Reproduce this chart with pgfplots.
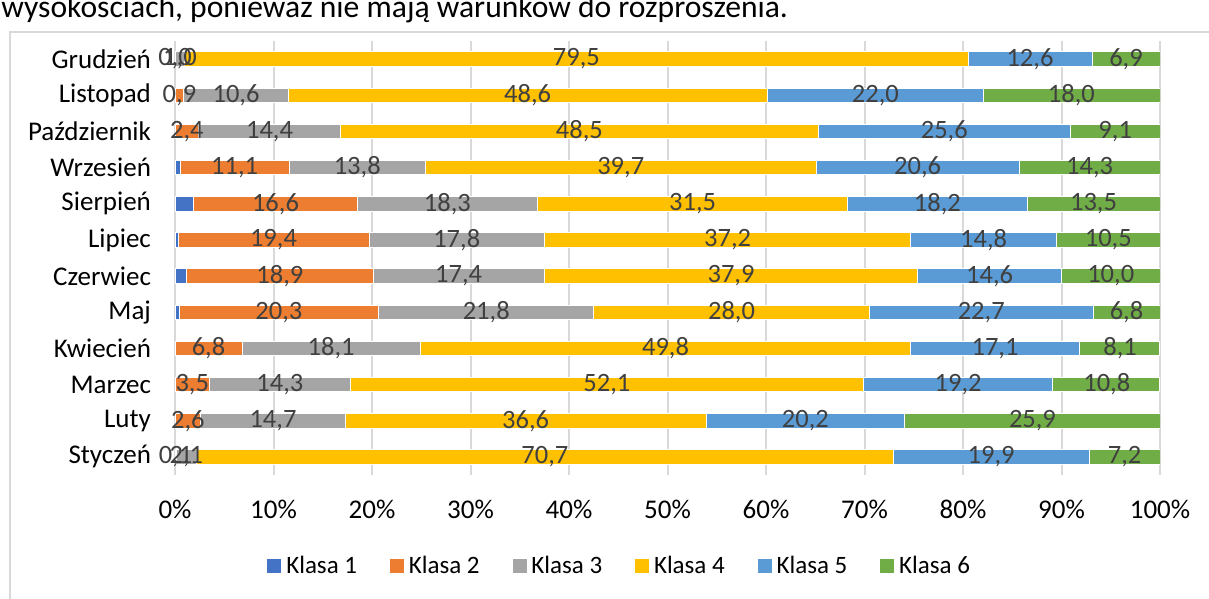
\documentclass[border=0pt]{standalone}
\usepackage{fontspec}
\setmainfont{Carlito}
\usepackage{pgfplots}
\usepackage{pgfplotstable}
\pgfplotsset{compat=1.18}

\definecolor{k1}{HTML}{4472C4}
\definecolor{k2}{HTML}{ED7D31}
\definecolor{k3}{HTML}{A5A5A5}
\definecolor{k4}{HTML}{FFC000}
\definecolor{k5}{HTML}{5B9BD5}
\definecolor{k6}{HTML}{70AD47}
\definecolor{gridgray}{HTML}{D9D9D9}
\definecolor{labelgray}{HTML}{404040}

% shares in % per month, y = 0 (Styczen) ... 11 (Grudzien)
\pgfplotstableread{
y  k1  k2   k3   k4   k5   k6
0  0.0 0.1  2.1  70.7 19.9 7.2
1  0.0 2.6  14.7 36.6 20.2 25.9
2  0.0 3.5  14.3 52.1 19.2 10.8
3  0.0 6.8  18.1 49.8 17.1 8.1
4  0.4 20.3 21.8 28.0 22.7 6.8
5  1.2 18.9 17.4 37.9 14.6 10.0
6  0.3 19.4 17.8 37.2 14.8 10.5
7  1.9 16.6 18.3 31.5 18.2 13.5
8  0.5 11.1 13.8 39.7 20.6 14.3
9  0.0 2.4  14.4 48.5 25.6 9.1
10 0.0 0.9  10.6 48.6 22.0 18.0
11 0.0 0.0  1.0  79.5 12.6 6.9
}\monthdata

\newcommand\tickfont{\fontsize{13.5}{16}\selectfont}
\newcommand\valfont{\fontsize{13.25}{16}\selectfont}
\newcommand\legfont{\fontsize{12.5}{15}\selectfont}

\pgfplotsset{
  frame/.style={
    at={(87.5pt,-237.5pt)}, anchor=south west,
    scale only axis, width=492.5pt, height=217pt,
    xmin=0, xmax=100, ymin=-0.5, ymax=11.5,
  },
}

\begin{document}
\begin{tikzpicture}
\useasboundingbox (0,0) rectangle (604.5pt,-299.5pt);
\clip (0,0) rectangle (604.5pt,-299.5pt);

\node[anchor=base west, inner sep=0pt, font=\fontsize{15.8}{19}\selectfont]
  at (0.5pt,-8.75pt) {wysokościach, ponieważ nie mają warunków do rozproszenia.};
\draw[gridgray, line width=1pt] (5pt,-16pt) rectangle (606pt,-310pt);

\begin{axis}[
  frame,
  xbar stacked, bar width=0.4,
  xtick={0,10,...,100},
  xticklabels={0\%,10\%,20\%,30\%,40\%,50\%,60\%,70\%,80\%,90\%,100\%},
  ytick={0,...,11},
  yticklabels={Styczeń,Luty,Marzec,Kwiecień,Maj,Czerwiec,Lipiec,Sierpień,Wrzesień,Październik,Listopad,Grudzień},
  xmajorgrids, major grid style={draw=gridgray, line width=1pt},
  axis line style={draw=none}, major tick length=0pt,
  tick label style={font=\tickfont, text=black},
  yticklabel style={xshift=-8.5pt},
  xticklabel style={yshift=-9pt},
  legend columns=6,
  legend style={draw=none, fill=none, at={(0.452,-0.2097)}, anchor=center,
    font=\legfont, text=black,
    /tikz/every even column/.append style={column sep=14pt}},
  legend image code/.code={\fill[#1] (0pt,-3.75pt) rectangle (7.5pt,3.75pt);},
  every axis plot/.append style={draw=white, line width=0.4pt},
]
\addplot[fill=k1] table[x=k1, y=y] {\monthdata};
\addplot[fill=k2] table[x=k2, y=y] {\monthdata};
\addplot[fill=k3] table[x=k3, y=y] {\monthdata};
\addplot[fill=k4] table[x=k4, y=y] {\monthdata};
\addplot[fill=k5] table[x=k5, y=y] {\monthdata};
\addplot[fill=k6] table[x=k6, y=y] {\monthdata};
\legend{Klasa 1,Klasa 2,Klasa 3,Klasa 4,Klasa 5,Klasa 6}
\end{axis}

% value labels, centred in each segment (classes 2-6)
\begin{axis}[
  frame, hide axis,
  nodes near coords={\pgfmathprintnumber[fixed,fixed zerofill,precision=1,use comma,assume math mode=true]{\pgfplotspointmeta}},
  point meta=explicit,
  every node near coord/.style={anchor=center, font=\valfont, text=labelgray, inner sep=0pt},
]
\addplot[draw=none, mark=none] table[x expr=\thisrow{k1}+0.5*\thisrow{k2}, y=y, meta=k2] {\monthdata};
\addplot[draw=none, mark=none] table[x expr=\thisrow{k1}+\thisrow{k2}+0.5*\thisrow{k3}, y=y, meta=k3] {\monthdata};
\addplot[draw=none, mark=none] table[x expr=\thisrow{k1}+\thisrow{k2}+\thisrow{k3}+0.5*\thisrow{k4}, y=y, meta=k4] {\monthdata};
\addplot[draw=none, mark=none] table[x expr=\thisrow{k1}+\thisrow{k2}+\thisrow{k3}+\thisrow{k4}+0.5*\thisrow{k5}, y=y, meta=k5] {\monthdata};
\addplot[draw=none, mark=none] table[x expr=100-0.5*\thisrow{k6}, y=y, meta=k6] {\monthdata};
\end{axis}
\end{tikzpicture}
\end{document}
